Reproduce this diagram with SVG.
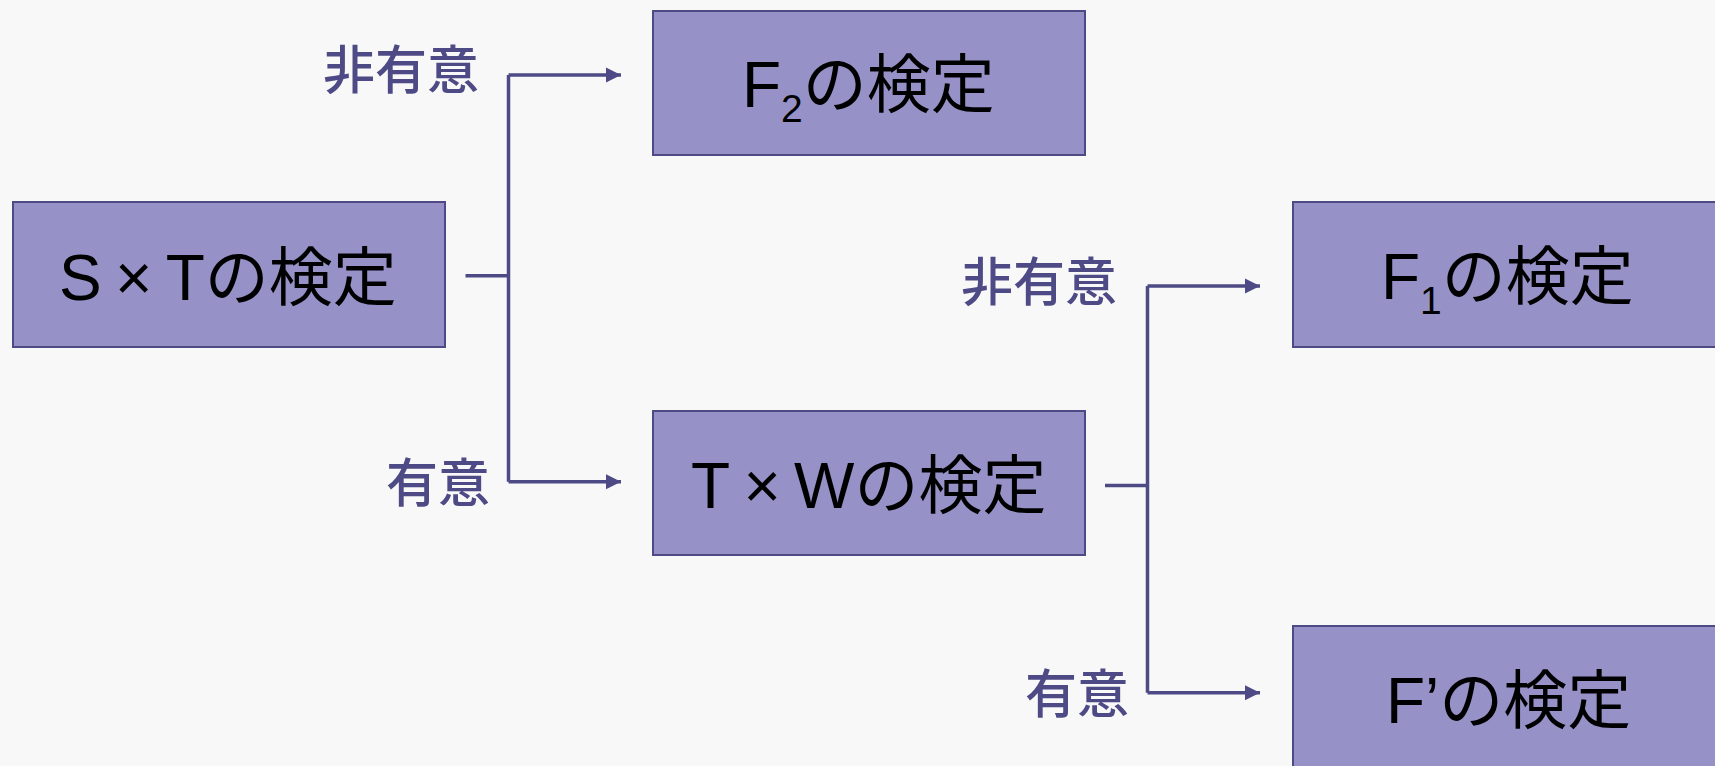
<svg xmlns="http://www.w3.org/2000/svg" width="1715" height="766" viewBox="0 0 1715 766">
  <defs>
    <style>
      .box { fill: #9692c8; stroke: #4e4a85; stroke-width: 2; }
      .t { font-family: "Liberation Sans", "Noto Sans CJK JP", sans-serif; font-size: 64px; fill: #000; }
      .j { font-family: "Noto Sans CJK JP", sans-serif; }
      .lbl { font-family: "Noto Sans CJK JP", sans-serif; font-size: 52px; font-weight: 500; fill: #4e4a85; text-anchor: end; }
      .ln { fill: none; stroke: #4e4a85; stroke-width: 3.5; }
    </style>
    <marker id="ah" markerUnits="userSpaceOnUse" markerWidth="16" markerHeight="16" viewBox="0 0 16 16" refX="15" refY="8" orient="auto">
      <path d="M0,0.5 L15,8 L0,15.5 Z" fill="#4e4a85"/>
    </marker>
  </defs>
  <rect width="1715" height="766" fill="#f8f8f8"/>

  <g id="connectors">
    <path class="ln" d="M465.5 275.7 H508.5 M508.5 75 V481.7"/>
    <path class="ln" d="M508.5 75 H621" marker-end="url(#ah)"/>
    <path class="ln" d="M508.5 481.7 H621" marker-end="url(#ah)"/>
    <path class="ln" d="M1105 485.6 H1147.5 M1147.5 286 V692.7"/>
    <path class="ln" d="M1147.5 286 H1260" marker-end="url(#ah)"/>
    <path class="ln" d="M1147.5 692.7 H1260" marker-end="url(#ah)"/>
  </g>

  <g id="labels">
    <text class="lbl" x="479" y="89">非有意</text>
    <text class="lbl" x="490" y="502">有意</text>
    <text class="lbl" x="1117" y="301">非有意</text>
    <text class="lbl" x="1129" y="713">有意</text>
  </g>

  <g id="node-sxt">
    <rect class="box" x="13" y="202" width="432" height="145"/>
    <text class="t" x="59" y="300">S<tspan dx="13.3">×</tspan><tspan dx="13.3">T</tspan><tspan class="j">の検定</tspan></text>
  </g>
  <g id="node-f2">
    <rect class="box" x="653" y="11" width="432" height="144"/>
    <text class="t" x="742" y="107">F<tspan font-size="39" dy="15">2</tspan><tspan class="j" dy="-15">の検定</tspan></text>
  </g>
  <g id="node-txw">
    <rect class="box" x="653" y="411" width="432" height="144"/>
    <text class="t" x="691" y="508">T<tspan dx="13.3">×</tspan><tspan dx="13.3">W</tspan><tspan class="j">の検定</tspan></text>
  </g>
  <g id="node-f1">
    <rect class="box" x="1293" y="202" width="440" height="145"/>
    <text class="t" x="1381" y="299">F<tspan font-size="39" dy="15">1</tspan><tspan class="j" dy="-15">の検定</tspan></text>
  </g>
  <g id="node-fprime">
    <rect class="box" x="1293" y="626" width="440" height="160"/>
    <text class="t" x="1386" y="723">F’<tspan class="j">の検定</tspan></text>
  </g>
</svg>
